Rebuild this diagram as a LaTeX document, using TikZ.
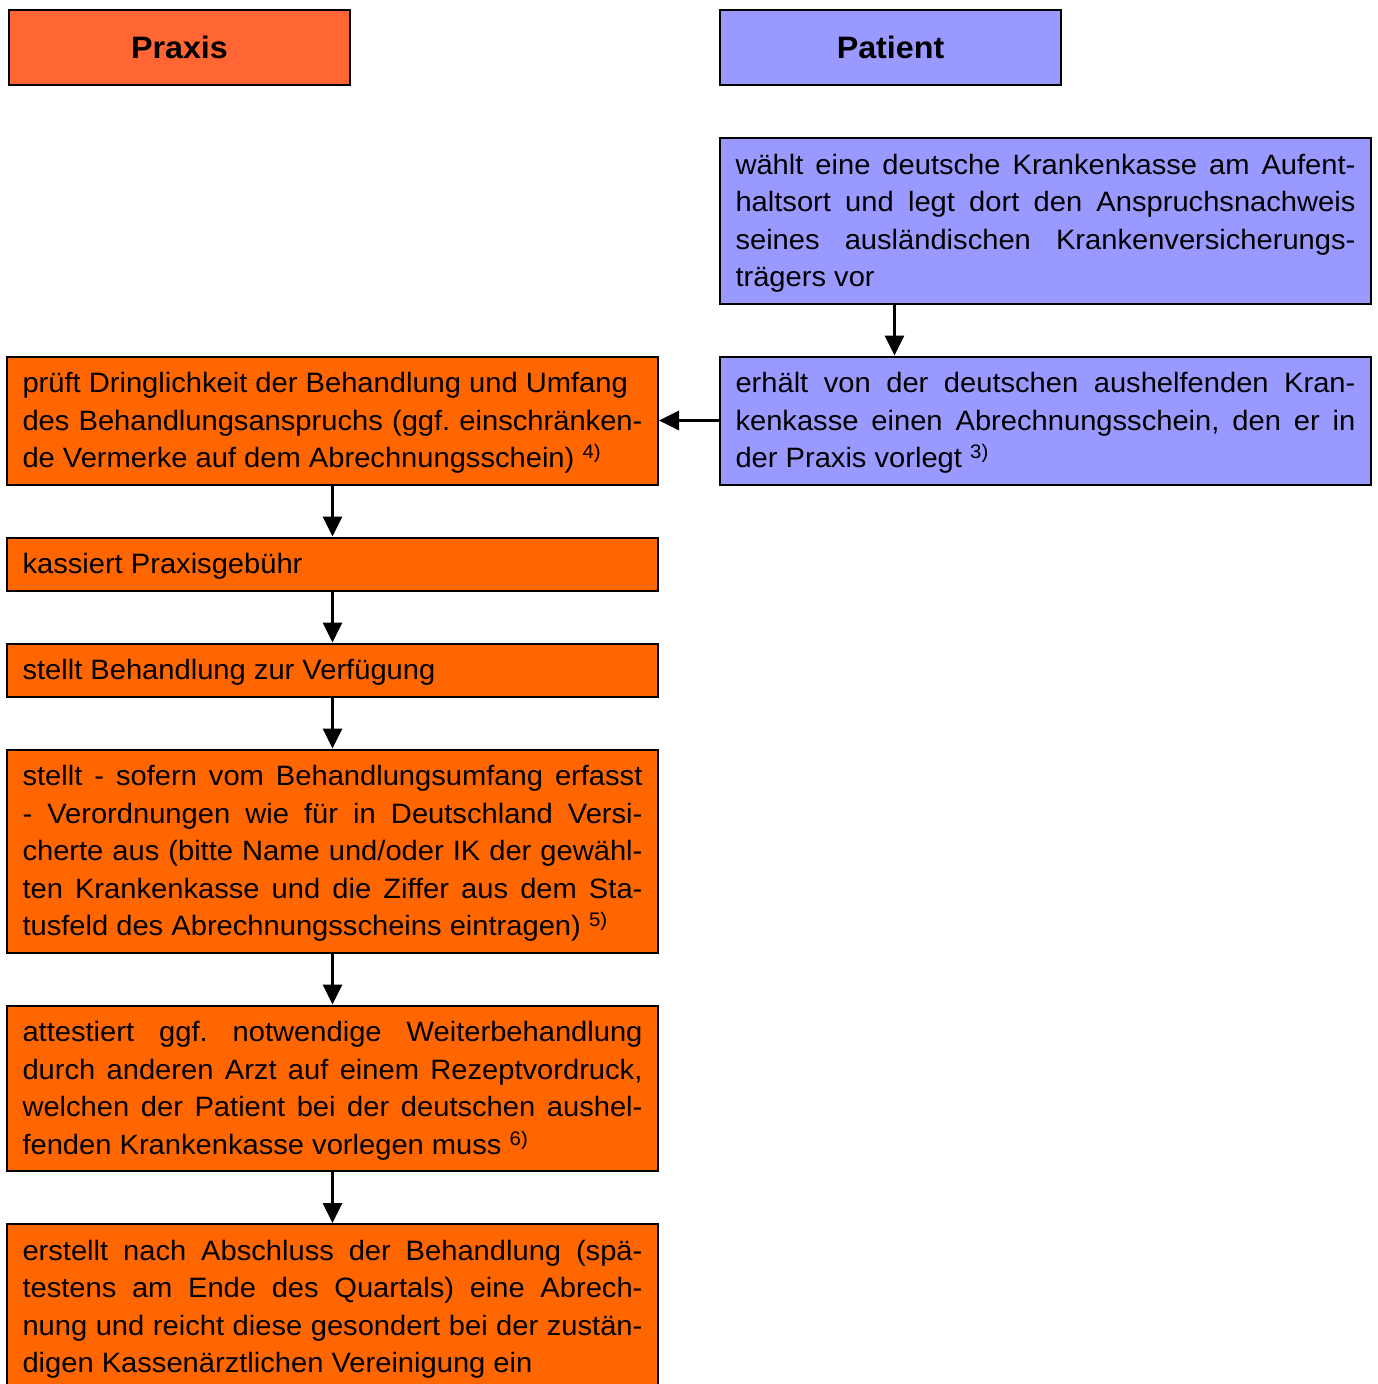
\documentclass[tikz,border=0pt]{standalone}
\usepackage{fontspec}
\setmainfont{Liberation Sans}[FakeStretch=1.04]
\usetikzlibrary{positioning,arrows.meta}
\definecolor{praxishead}{HTML}{FF6633}
\definecolor{praxisbox}{HTML}{FF6600}
\definecolor{patientbox}{HTML}{9999FF}
\newcommand{\boxstrut}{\rule[-9pt]{0pt}{37.5pt}}

\begin{document}
\begin{tikzpicture}
[line width=2pt,%
  every node/.style={draw,line width=2pt,font=\fontsize{28}{37.5}\selectfont},%
  head/.style={minimum width=341pt,minimum height=75pt,font=\fontsize{31}{37}\selectfont\bfseries},%
  textbox/.style={text width=620pt,inner xsep=15.5pt,inner ysep=7.75pt,align=justify,%
    execute at begin node={\frenchspacing\hyphenpenalty=10000\boxstrut},execute at end node=\boxstrut},%
  arr/.style={-{Triangle[length=20pt,width=19pt]},line width=3pt},%
  node distance=51pt]
\useasboundingbox (0,0) rectangle (1378pt,-1384pt);
\node[head,fill=praxishead,anchor=north west] (hPraxis) at (8pt,-9pt) {Praxis};
\node[head,fill=patientbox,anchor=north west] (hPatient) at (719pt,-9pt) {Patient};
\node[textbox,fill=patientbox,below=51pt of hPatient.south west,anchor=north west] (pat1)
  {wählt eine deutsche Krankenkasse am Aufent-\linebreak haltsort und legt dort den Anspruchsnachweis\linebreak
   seines ausländischen Krankenversicherungs-\linebreak trägers vor};
\node[textbox,fill=patientbox,below=of pat1] (pat2)
  {erhält von der deutschen aushelfenden Kran-\linebreak kenkasse einen Abrechnungsschein, den er in\linebreak
   der Praxis vorlegt \textsuperscript{3)}};
\node[textbox,fill=praxisbox,left=60pt of pat2] (pra1)
  {prüft Dringlichkeit der Behandlung und Umfang\\ des Behandlungsanspruchs (ggf. einschränken-\linebreak
   de Vermerke auf dem Abrechnungsschein) \textsuperscript{4)}};
\node[textbox,fill=praxisbox,below=of pra1] (pra2) {kassiert Praxisgebühr};
\node[textbox,fill=praxisbox,below=of pra2] (pra3) {stellt Behandlung zur Verfügung};
\node[textbox,fill=praxisbox,below=of pra3] (pra4)
  {stellt - sofern vom Behandlungsumfang erfasst\linebreak - Verordnungen wie für in Deutschland Versi-\linebreak
   cherte aus (bitte Name und/oder IK der gewähl-\linebreak ten Krankenkasse und die Ziffer aus dem Sta-\linebreak
   tusfeld des Abrechnungsscheins eintragen) \textsuperscript{5)}};
\node[textbox,fill=praxisbox,below=of pra4] (pra5)
  {attestiert ggf. notwendige Weiterbehandlung\linebreak durch anderen Arzt auf einem Rezeptvordruck,\linebreak
   welchen der Patient bei der deutschen aushel-\linebreak fenden Krankenkasse vorlegen muss \textsuperscript{6)}};
\node[textbox,fill=praxisbox,below=of pra5] (pra6)
  {erstellt nach Abschluss der Behandlung (spä-\linebreak testens am Ende des Quartals) eine Abrech-\linebreak
   nung und reicht diese gesondert bei der zustän-\linebreak digen Kassenärztlichen Vereinigung ein};
\coordinate (patArrow) at ([xshift=4pt]hPatient.south);
\draw[arr] (pat1.south -| patArrow) -- (pat2.north -| patArrow);
\draw[arr] (pat2) -- (pra1);
\foreach \a/\b in {pra1/pra2,pra2/pra3,pra3/pra4,pra4/pra5,pra5/pra6}
  \draw[arr] (\a) -- (\b);
\end{tikzpicture}
\end{document}
